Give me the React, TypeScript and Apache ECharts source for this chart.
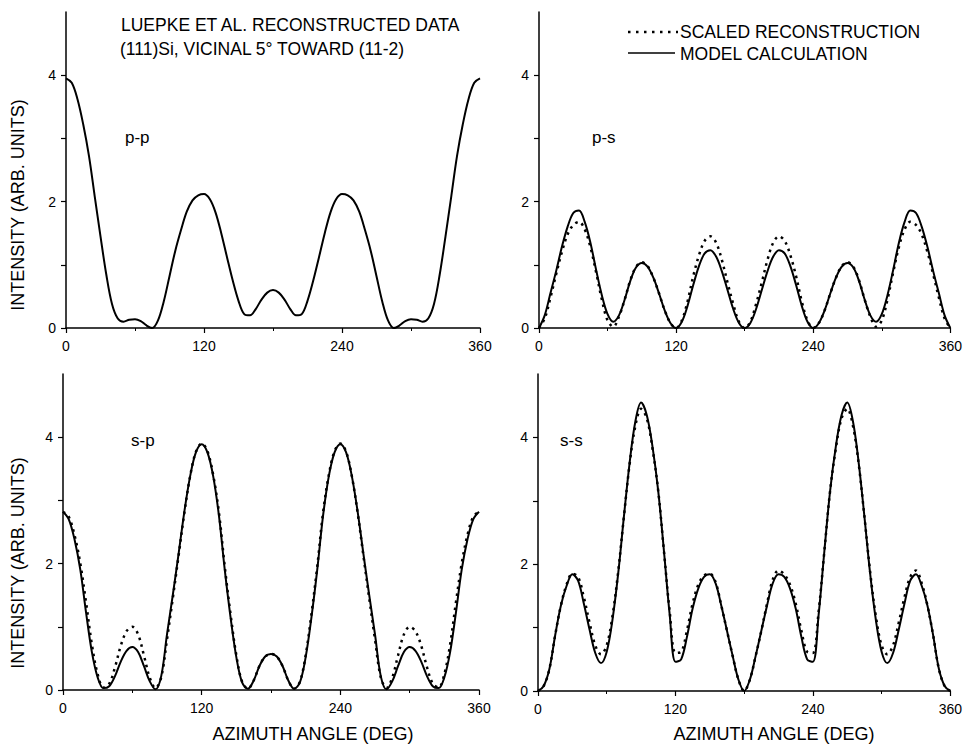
import React, { useEffect, useRef } from "react";
import * as echarts from "echarts";

const angles = [
  0, 5, 10, 15, 20, 25, 30, 35, 40, 45, 50, 55, 60, 65, 70, 75, 80, 85, 90, 95,
  100, 105, 110, 115, 120, 125, 130, 135, 140, 145, 150, 155, 160, 165, 170, 175,
  180, 185, 190, 195, 200, 205, 210, 215, 220, 225, 230, 235, 240, 245, 250, 255,
  260, 265, 270, 275, 280, 285, 290, 295, 300, 305, 310, 315, 320, 325, 330, 335,
  340, 345, 350, 355, 360,
];

const xTicks = [0, 120, 240, 360];
const yTickLabels = [0, 2, 4];

// p-p : model calculation
const ppModel = [
  3.95, 3.88, 3.62, 3.22, 2.72, 2.08, 1.45, 0.85, 0.38, 0.15, 0.1, 0.13, 0.14, 0.11, 0.04, 0.0, 0.12, 0.42, 0.82, 1.22,
  1.55, 1.84, 2.02, 2.1, 2.12, 2.04, 1.83, 1.5, 1.12, 0.75, 0.43, 0.22, 0.2, 0.3, 0.45, 0.56,
  0.6, 0.56, 0.45, 0.3, 0.2, 0.22, 0.43, 0.75, 1.12, 1.5, 1.83, 2.04, 2.12, 2.1, 2.02, 1.84,
  1.55, 1.22, 0.82, 0.42, 0.12, 0.0, 0.04, 0.11, 0.14, 0.13, 0.1, 0.15, 0.38, 0.85, 1.45, 2.08,
  2.72, 3.22, 3.62, 3.88, 3.95,
];

// p-s
const psModel = [
  0.0, 0.2, 0.55, 0.9, 1.28, 1.6, 1.82, 1.86, 1.68, 1.35, 0.92, 0.52, 0.22, 0.1, 0.2, 0.45, 0.75, 0.96, 1.03, 0.97,
  0.8, 0.55, 0.28, 0.08, 0.0, 0.1, 0.35, 0.68, 0.98, 1.18, 1.23, 1.13, 0.9, 0.6, 0.3, 0.08,
  0.0, 0.08, 0.3, 0.6, 0.9, 1.13, 1.23, 1.18, 0.98, 0.68, 0.35, 0.1, 0.0, 0.08, 0.28, 0.55,
  0.8, 0.97, 1.03, 0.96, 0.75, 0.45, 0.2, 0.1, 0.22, 0.52, 0.92, 1.35, 1.68, 1.86, 1.82, 1.6,
  1.28, 0.9, 0.55, 0.2, 0.0,
];
const psRecon = [
  0.0, 0.15, 0.48, 0.85, 1.2, 1.48, 1.63, 1.68, 1.56, 1.28, 0.88, 0.45, 0.12, 0.02, 0.18, 0.45, 0.76, 0.97, 1.04, 0.98,
  0.8, 0.55, 0.28, 0.08, 0.0, 0.12, 0.42, 0.82, 1.15, 1.38, 1.45, 1.35, 1.08, 0.72, 0.38, 0.1,
  0.0, 0.1, 0.38, 0.72, 1.08, 1.35, 1.45, 1.38, 1.15, 0.82, 0.42, 0.12, 0.0, 0.08, 0.28, 0.55,
  0.8, 0.98, 1.04, 0.97, 0.76, 0.45, 0.18, 0.02, 0.12, 0.45, 0.88, 1.28, 1.56, 1.68, 1.63, 1.48,
  1.2, 0.85, 0.48, 0.15, 0.0,
];

// s-p
const spModel = [
  2.82, 2.7, 2.38, 1.9, 1.22, 0.6, 0.2, 0.03, 0.06, 0.22, 0.45, 0.62, 0.68, 0.6, 0.38, 0.14, 0.01, 0.22, 0.88, 1.5,
  2.15, 2.82, 3.38, 3.76, 3.89, 3.76, 3.38, 2.75, 1.9, 1.15, 0.52, 0.12, 0.02, 0.15, 0.38, 0.53,
  0.57, 0.53, 0.38, 0.15, 0.02, 0.12, 0.52, 1.15, 1.9, 2.75, 3.38, 3.76, 3.89, 3.76, 3.38, 2.82,
  2.15, 1.5, 0.88, 0.22, 0.01, 0.14, 0.38, 0.6, 0.68, 0.62, 0.45, 0.22, 0.06, 0.03, 0.2, 0.6,
  1.22, 1.9, 2.38, 2.7, 2.82,
];
const spRecon = [
  2.82, 2.74, 2.45, 2.0, 1.38, 0.72, 0.25, 0.04, 0.1, 0.36, 0.7, 0.93, 1.0, 0.88, 0.55, 0.2, 0.03, 0.2, 0.8, 1.45,
  2.12, 2.8, 3.38, 3.77, 3.9, 3.78, 3.4, 2.8, 1.95, 1.2, 0.55, 0.13, 0.02, 0.15, 0.38, 0.53,
  0.57, 0.53, 0.38, 0.15, 0.02, 0.13, 0.55, 1.2, 1.95, 2.8, 3.4, 3.78, 3.9, 3.77, 3.38, 2.8,
  2.12, 1.45, 0.8, 0.2, 0.03, 0.2, 0.55, 0.88, 1.0, 0.93, 0.7, 0.36, 0.1, 0.04, 0.25, 0.72,
  1.38, 2.0, 2.45, 2.74, 2.82,
];

// s-s
const ssModel = [
  0.0, 0.08, 0.35, 0.88, 1.35, 1.66, 1.84, 1.74, 1.38, 0.97, 0.6, 0.44, 0.62, 1.12, 1.85, 2.75, 3.6, 4.25, 4.55, 4.35,
  3.85, 3.15, 2.2, 1.2, 0.46, 0.5, 0.85, 1.3, 1.62, 1.8, 1.84, 1.7, 1.35, 0.95, 0.55, 0.18,
  0.0, 0.18, 0.55, 0.95, 1.35, 1.7, 1.84, 1.8, 1.62, 1.3, 0.85, 0.5, 0.46, 1.2, 2.2, 3.15,
  3.85, 4.35, 4.55, 4.25, 3.6, 2.75, 1.85, 1.12, 0.62, 0.44, 0.6, 0.97, 1.38, 1.74, 1.84, 1.66,
  1.35, 0.88, 0.35, 0.08, 0.0,
];
const ssRecon = [
  0.0, 0.08, 0.35, 0.88, 1.35, 1.68, 1.85, 1.8, 1.48, 1.08, 0.72, 0.58, 0.72, 1.18, 1.88, 2.75, 3.58, 4.18, 4.45, 4.3,
  3.82, 3.15, 2.2, 1.25, 0.6, 0.62, 0.95, 1.38, 1.68, 1.82, 1.85, 1.72, 1.35, 0.95, 0.55, 0.18,
  0.0, 0.18, 0.55, 0.95, 1.38, 1.76, 1.9, 1.84, 1.68, 1.38, 0.95, 0.62, 0.6, 1.25, 2.2, 3.15,
  3.82, 4.3, 4.45, 4.18, 3.58, 2.75, 1.88, 1.18, 0.72, 0.58, 0.72, 1.08, 1.48, 1.8, 1.9, 1.7,
  1.35, 0.88, 0.35, 0.08, 0.0,
];

const panelLabels = ["p-p", "p-s", "s-p", "s-s"];
const titleLines = ["LUEPKE ET AL. RECONSTRUCTED DATA", "(111)Si, VICINAL 5° TOWARD (11-2)"];
const legendLabels = ["SCALED RECONSTRUCTION", "MODEL CALCULATION"];
const yAxisName = "INTENSITY (ARB. UNITS)";
const xAxisName = "AZIMUTH ANGLE (DEG)";

const FONT = "'Liberation Sans', Arial, Helvetica, sans-serif";

const pairs = (arr: number[]) => angles.map((a, i) => [a, arr[i]]);

export default function App() {
  const ref = useRef<HTMLDivElement>(null);
  useEffect(() => {
    if (!ref.current) return;
    const chart = echarts.init(ref.current, undefined, { renderer: "svg" });

    const grids = [
      { left: 66, top: 12, width: 414, height: 316 },
      { left: 539, top: 12, width: 413, height: 316 },
      { left: 63, top: 374, width: 416, height: 316 },
      { left: 538, top: 374, width: 415, height: 317 },
    ];

    const xAxes = grids.map((_, i) => ({
      type: "value",
      gridIndex: i,
      min: xTicks[0],
      max: xTicks[xTicks.length - 1],
      interval: xTicks[1] - xTicks[0],
      axisLine: { show: true, lineStyle: { color: "#000", width: 1.5 } },
      axisTick: { show: true, length: 5, lineStyle: { color: "#000", width: 1.2 } },
      minorTick: { show: true, splitNumber: 2, length: 3, lineStyle: { color: "#000", width: 1 } },
      axisLabel: { color: "#000", fontSize: 14, margin: 11, fontFamily: FONT },
      splitLine: { show: false },
      minorSplitLine: { show: false },
    }));

    const yAxes = grids.map((_, i) => ({
      type: "value",
      gridIndex: i,
      min: 0,
      max: 5,
      interval: 1,
      axisLine: { show: true, onZero: false, lineStyle: { color: "#000", width: 1.5 } },
      axisTick: { show: true, length: 5, customValues: [0, 1, 2, 3, 4], lineStyle: { color: "#000", width: 1.2 } },
      axisLabel: {
        color: "#000",
        fontSize: 14,
        margin: 10,
        fontFamily: FONT,
        customValues: yTickLabels,
        formatter: (v: number) => (yTickLabels.indexOf(v) >= 0 ? String(v) : ""),
      },
      splitLine: { show: false },
    }));

    const solid = (data: number[], idx: number) => ({
      type: "line",
      xAxisIndex: idx,
      yAxisIndex: idx,
      data: pairs(data),
      showSymbol: false,
      smooth: 0.35,
      lineStyle: { color: "#000", width: 2 },
      z: 2,
    });
    const dotted = (data: number[], idx: number) => ({
      type: "line",
      xAxisIndex: idx,
      yAxisIndex: idx,
      data: pairs(data),
      showSymbol: false,
      smooth: 0.35,
      lineStyle: { color: "#000", width: 2.5, type: [2.5, 4.5] },
      z: 3,
    });

    const txt = (x: number, y: number, text: string, size: number, extra: any = {}) => ({
      type: "text",
      x,
      y,
      ...extra,
      style: {
        text,
        fill: "#000",
        font: `${size}px ${FONT}`,
        verticalAlign: "middle",
        align: extra.align || "left",
      },
    });

    const graphic: any[] = [
      txt(121, 25, titleLines[0], 17.5),
      txt(120, 49, titleLines[1], 17.5),
      txt(680, 32, legendLabels[0], 17.5),
      txt(680, 54, legendLabels[1], 17.5),
      {
        type: "line",
        shape: { x1: 628, y1: 32, x2: 678, y2: 32 },
        style: { stroke: "#000", lineWidth: 2.5, lineDash: [2.5, 5.5] },
      },
      {
        type: "line",
        shape: { x1: 628, y1: 53, x2: 675, y2: 53 },
        style: { stroke: "#000", lineWidth: 1.5 },
      },
      txt(125, 137, panelLabels[0], 17),
      txt(592, 137, panelLabels[1], 17),
      txt(131, 440, panelLabels[2], 17),
      txt(560, 440, panelLabels[3], 17),
      { ...txt(0, 0, yAxisName, 18, { align: "center" }), x: 18, y: 205, rotation: Math.PI / 2 },
      { ...txt(0, 0, yAxisName, 18, { align: "center" }), x: 18, y: 563, rotation: Math.PI / 2 },
      txt(313, 734, xAxisName, 18, { align: "center" }),
      txt(774, 734, xAxisName, 18, { align: "center" }),
    ];

    chart.setOption({
      animation: false,
      backgroundColor: "#fff",
      grid: grids,
      xAxis: xAxes,
      yAxis: yAxes,
      series: [
        solid(ppModel, 0),
        solid(psModel, 1),
        dotted(psRecon, 1),
        solid(spModel, 2),
        dotted(spRecon, 2),
        solid(ssModel, 3),
        dotted(ssRecon, 3),
      ],
      graphic,
    });

    return () => chart.dispose();
  }, []);

  return (
    <div
      ref={ref}
      style={{ position: "absolute", left: 0, top: 0, width: 965, height: 749, background: "#fff" }}
    />
  );
}
